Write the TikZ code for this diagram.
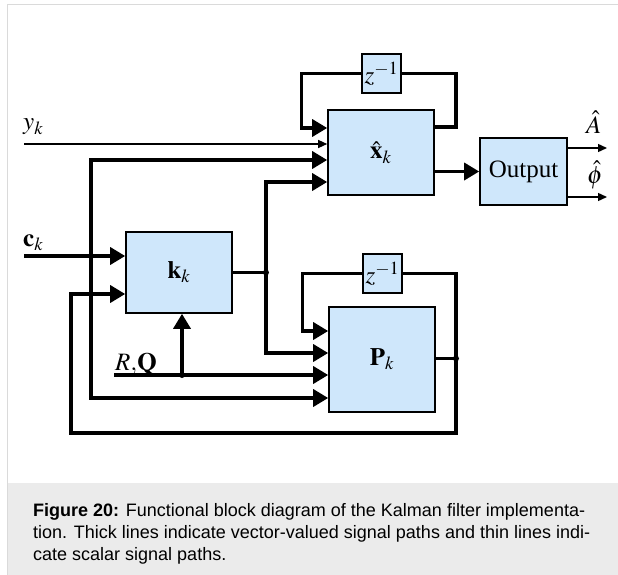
\documentclass[tikz,border=0pt]{standalone}
\usepackage{mathptmx}
\usepackage{fontspec}
\setmainfont{Liberation Serif}
\newfontfamily\capfont{Liberation Sans}
\usetikzlibrary{arrows.meta,calc}
\definecolor{boxblue}{RGB}{207,231,251}
\definecolor{capgray}{RGB}{235,235,235}
\definecolor{framegray}{RGB}{218,218,218}
\newcommand\lblfont{\fontsize{25}{29}\selectfont}
\begin{document}
\begin{tikzpicture}[x=1pt,y=-1pt,
  box/.style={draw,line width=1.6pt,fill=boxblue,inner sep=0pt,font=\lblfont},
  vec/.style={line width=3.4pt},
  sca/.style={line width=1.3pt},
  vtip/.style={-{Triangle[length=15pt,width=17pt]}},
  stip/.style={-{Triangle[length=9pt,width=8pt]}},
  lab/.style={inner sep=0pt,anchor=base west,font=\lblfont},
  capt/.style={inner sep=0pt,anchor=base west,font=\capfont\fontsize{18}{21}\selectfont},
  jdot/.style={circle,fill,inner sep=0pt,minimum size=6pt}]
\useasboundingbox (0,0) rectangle (618,575);
% frame and caption background
\fill[capgray] (7.5,483) rectangle (618,575);
\draw[framegray,line width=1pt] (7,575) -- (7,4.5) -- (618,4.5);
% blocks
\node[box,minimum width=39pt,minimum height=39pt] (zx) at (381.5,73.5) {$z^{-1}$};
\node[box,minimum width=106pt,minimum height=85pt] (xh) at (381,152.5) {$\hat{\mathbf{x}}_k$};
\node[box,minimum width=87pt,minimum height=67pt] (out) at (523.5,171.5) {Output};
\node[box,minimum width=106pt,minimum height=81pt] (kk) at (179,272.5) {$\mathbf{k}_k$};
\node[box,minimum width=39pt,minimum height=39pt] (zp) at (382.5,273.5) {$z^{-1}$};
\node[box,minimum width=106pt,minimum height=105pt] (P) at (382,359.5) {$\mathbf{P}_k$};
% free ends, ports and junctions
\coordinate (ykin) at (24,144);
\coordinate (ckin) at (24,256);
\coordinate (rqin) at (114,375);
\coordinate (Aend) at (607,148);
\coordinate (phiend) at (607,197);
\coordinate (xin1) at (xh.west |- 0,128);
\coordinate (xin3) at (xh.west |- 0,160);
\coordinate (xin4) at (xh.west |- 0,182);
\coordinate (xout1) at (xh.east |- 0,127);
\coordinate (pin1) at (P.west |- 0,331);
\coordinate (pin2) at (P.west |- 0,353);
\coordinate (pin4) at (P.west |- 0,398);
\coordinate (kin2) at (kk.west |- 0,294);
\coordinate (jc) at (91,256);
\coordinate (jk) at (266,272.5);
\coordinate (jp) at (456,358.5);
\coordinate (jr) at (182,375);
\coordinate (bl) at (71,433);
% connectors
\draw[sca,stip] (ykin) -- (ykin -| xh.west);
\draw[vec,vtip] (ckin) -- (ckin -| kk.west);
\draw[vec,vtip] (jc) |- (xin3);
\draw[vec,vtip] (jc) |- (pin4);
\draw[vec] (kk.east |- jk) -- (jk);
\draw[vec,vtip] (jk) |- (xin4);
\draw[vec,vtip] (jk) |- (pin2);
\draw[vec,vtip] (xh.east |- out.west) -- (out.west);
\draw[vec] (xout1) -| ([xshift=21pt]xout1 |- zx.east) -- (zx.east);
\draw[vec,vtip] (zx.west) -| ([xshift=-26pt]xin1) -- (xin1);
\draw[vec] (P.east |- jp) -- (jp);
\draw[vec] (jp) |- (zp.east);
\draw[vec,vtip] (zp.west) -| ([xshift=-26pt]pin1) -- (pin1);
\draw[vec,vtip] (jp) |- (bl) |- (kin2);
\draw[vec,vtip] (rqin) -- (rqin -| P.west);
\draw[vec,vtip] (jr) -- (jr |- kk.south);
\draw[sca,stip] (out.east |- Aend) -- (Aend);
\draw[sca,stip] (out.east |- phiend) -- (phiend);
\node[jdot] (djc) at (jc) {};
\node[jdot] (djk) at (jk) {};
\node[jdot] (djp) at (jp) {};
\node[jdot] (djr) at (jr) {};
% labels
\node[lab] (lyk) at (23,130) {$y_k$};
\node[lab] (lck) at (23,246) {$\mathbf{c}_k$};
\node[lab] (lrq) at (115,370) {$R,\!\mathbf{Q}$};
\node[lab] (lA) at (586,133) {$\hat{A}$};
\node[lab] (lphi) at (587,183) {$\hat{\phi}$};
% caption
\node[capt] (c1) at (33,516.5) {\textbf{Figure 20:} Functional block diagram of the Kalman filter implementa-};
\node[capt] (c2) at (33,538.5) {tion. Thick lines indicate vector-valued signal paths and thin lines indi-};
\node[capt] (c3) at (33,560.5) {cate scalar signal paths.};
\end{tikzpicture}
\end{document}
